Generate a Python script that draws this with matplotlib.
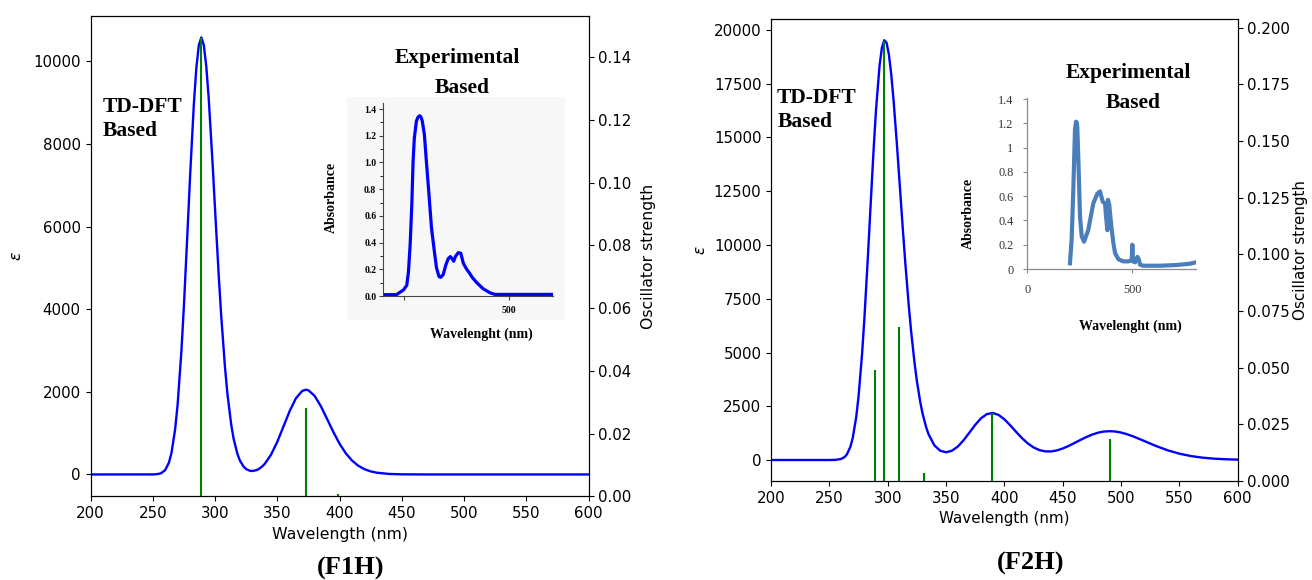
import matplotlib
matplotlib.use("Agg")
import matplotlib.pyplot as plt
import matplotlib.ticker as mticker

W, H = 1312, 580
BLUE = "#0000ff"
GREEN = "#008000"
STEEL = "#4a7ebb"
SERIF = "Liberation Serif"

# ── F1H: TD-DFT spectrum (wavelength nm, epsilon) ──────────────────────────────
f1_wl = [200, 250, 252, 255, 257, 260, 263, 265, 268, 270, 273, 275, 278, 280, 283, 285,
         287, 289, 291, 293, 295, 298, 300, 303, 305, 308, 310, 313, 315, 318, 320, 323,
         325, 328, 330, 333, 335, 338, 340, 345, 350, 355, 360, 365, 370, 373, 375, 380,
         385, 390, 395, 400, 405, 410, 415, 420, 425, 430, 440, 450, 470, 600]
f1_eps = [0, 1, 4, 15, 35, 107, 287, 513, 1099, 1702, 2979, 4065, 5940, 7228, 8961, 9837,
          10393, 10580, 10397, 9878, 9082, 7557, 6442, 4813, 3834, 2601, 1947, 1210, 858, 496, 337, 188,
          131, 89, 84, 101, 129, 196, 258, 478, 789, 1161, 1537, 1844, 2021, 2051, 2038, 1903,
          1654, 1346, 1031, 747, 514, 338, 212, 128, 74, 42, 12, 3, 0, 0]
f1_stick_wl = [288.7, 372.7, 399.0]
f1_stick_f = [0.146, 0.0283, 0.0006]

# F1H: experimental inset
f1_exp_wl = [200, 232, 236, 248, 256, 260, 264, 268, 271, 274, 279, 283, 287, 290, 293, 298,
             303, 309, 315, 322, 327, 333, 337, 343, 349, 355, 360, 364, 368, 372, 379, 385,
             391, 399, 406, 412, 423, 438, 454, 466, 605]
f1_exp_abs = [0.01, 0.01, 0.02, 0.045, 0.08, 0.18, 0.38, 0.68, 1.0, 1.18, 1.31, 1.34, 1.35, 1.34, 1.31, 1.21,
              1.0, 0.76, 0.51, 0.33, 0.21, 0.145, 0.14, 0.16, 0.23, 0.28, 0.295, 0.28, 0.26, 0.295, 0.325, 0.32,
              0.245, 0.20, 0.17, 0.14, 0.10, 0.055, 0.025, 0.012, 0.012]
f1_in_yticks = [0.0, 0.2, 0.4, 0.6, 0.8, 1.0, 1.2, 1.4]
f1_in_ylabels = ["0.0", "0.2", "0.4", "0.6", "0.8", "1.0", "1.2", "1.4"]
f1_in_xticks = [250, 500]
f1_in_xlabels = ["", "500"]

# ── F2H: TD-DFT spectrum ───────────────────────────────────────────────────────
f2_wl = [200, 250, 255, 260, 263, 265, 268, 270, 273, 275, 278, 280, 283, 285, 288, 290,
         293, 295, 297, 299, 301, 303, 305, 308, 310, 313, 315, 318, 320, 323, 325, 328,
         330, 333, 335, 340, 345, 350, 355, 360, 365, 370, 375, 380, 385, 390, 395, 400,
         405, 410, 415, 420, 425, 430, 435, 440, 445, 450, 455, 460, 465, 470, 475, 480,
         485, 490, 495, 500, 505, 510, 520, 530, 540, 550, 560, 570, 580, 590, 600]
f2_eps = [0, 0, 6, 48, 139, 263, 618, 1025, 2005, 2967, 4934, 6587, 9461, 11523, 14542, 16317,
          18350, 19174, 19525, 19407, 18859, 17940, 16736, 14585, 13028, 10698, 9219, 7204, 6019, 4510, 3675, 2664,
          2131, 1512, 1199, 681, 431, 360, 431, 622, 916, 1272, 1634, 1941, 2135, 2188, 2099, 1895,
          1617, 1314, 1024, 776, 586, 462, 401, 398, 446, 534, 652, 787, 928, 1061, 1177, 1266,
          1322, 1341, 1326, 1278, 1203, 1108, 883, 653, 453, 296, 184, 109, 62, 34, 18]
f2_stick_wl = [289.1, 296.7, 309.7, 331.4, 389.3, 490.3]
f2_stick_f = [0.049, 0.194, 0.0678, 0.0036, 0.0302, 0.0185]

# F2H: experimental inset
f2_exp_wl = [203, 211, 219, 227, 232, 235, 238, 245, 251, 259, 270, 290, 314, 333, 346, 359,
             370, 375, 381, 384, 390, 400, 410, 418, 434, 457, 481, 497, 500, 503, 513, 524,
             530, 537, 552, 632, 711, 775, 803]
f2_exp_abs = [0.047, 0.24, 0.65, 1.15, 1.215, 1.21, 1.17, 0.79, 0.43, 0.27, 0.225, 0.32, 0.54, 0.62, 0.64, 0.555,
              0.54, 0.43, 0.32, 0.57, 0.53, 0.35, 0.21, 0.13, 0.08, 0.063, 0.063, 0.07, 0.2, 0.063, 0.055, 0.1,
              0.083, 0.035, 0.027, 0.027, 0.033, 0.044, 0.055]
f2_in_yticks = [0.0, 0.2, 0.4, 0.6, 0.8, 1.0, 1.2, 1.4]
f2_in_ylabels = ["0", "0.2", "0.4", "0.6", "0.8", "1", "1.2", "1.4"]
f2_in_xticks = [0, 500]
f2_in_xlabels = ["0", "500"]


def px_rect(x0, y0, x1, y1):
    """Pixel box (top-left origin) -> figure fraction rect."""
    return [x0 / W, 1 - y1 / H, (x1 - x0) / W, (y1 - y0) / H]


def px(x, y):
    return x / W, 1 - y / H


def bold_serif(x, y, s, size, **kw):
    fig.text(*px(x, y), s, fontsize=size, fontweight="bold", family=SERIF, **kw)


def td_panel(rect, wl, eps, s_wl, s_f, eps_step, eps_x, osc_x, fs):
    ax = fig.add_axes(rect)
    ax.plot(wl, eps, color=BLUE, lw=1.7)
    ax.set_xlim(200, 600)
    ax.yaxis.set_major_locator(mticker.MultipleLocator(eps_step))
    ax.tick_params(labelsize=10.8)
    ax.set_xlabel("Wavelength (nm)", fontsize=fs)
    ax.set_ylabel(r"$\epsilon$", fontsize=fs, va="center")
    ax.yaxis.set_label_coords(eps_x, 0.5)

    ax2 = ax.twinx()
    ax2.vlines(s_wl, 0, s_f, color=GREEN, lw=1.5)
    ax2.set_ylim(0, max(s_f) * 1.05)
    ax2.tick_params(labelsize=10.8)
    ax2.set_ylabel("Oscillator strength", fontsize=fs, va="center")
    ax2.yaxis.set_label_coords(osc_x, 0.5)
    return ax


fig = plt.figure(figsize=(13.12, 5.8), dpi=100)

# ── Panel F1H ─────────────────────────────────────────────────────────────────
td_panel(px_rect(90.5, 15.6, 588.5, 496.3), f1_wl, f1_eps, f1_stick_wl, f1_stick_f,
         2000, -0.148, 1.12, 11.3)

bg = fig.add_axes(px_rect(347, 97, 565, 320))
bg.set_facecolor("#f7f7f7")
bg.set_xticks([])
bg.set_yticks([])
for sp in bg.spines.values():
    sp.set_visible(False)

ins1 = fig.add_axes(px_rect(383.3, 103, 553, 296))
ins1.patch.set_alpha(0)
ins1.plot(f1_exp_wl, f1_exp_abs, color=BLUE, lw=2.3)
ins1.set_xlim(200, 605)
ins1.set_ylim(0, 1.445)
ins1.spines[["top", "right"]].set_visible(False)
for sp in ins1.spines.values():
    sp.set_color("#444444")
    sp.set_linewidth(0.8)
ins1.set_xticks(f1_in_xticks, f1_in_xlabels, fontweight="bold", family=SERIF)
ins1.set_yticks(f1_in_yticks, f1_in_ylabels, fontweight="bold", family=SERIF)
ins1.yaxis.set_minor_locator(mticker.MultipleLocator(0.1))
ins1.tick_params(labelsize=7, length=3, width=0.8, pad=2, color="#444444")
ins1.tick_params(axis="x", pad=4)
ins1.tick_params(which="minor", length=2, width=0.6)

bold_serif(331.7, 197.5, "Absorbance", 10, rotation=90, ha="center", va="center")
bold_serif(481, 334, "Wavelenght (nm)", 10, ha="center", va="center")
bold_serif(103, 107, "TD-DFT", 15.5, ha="left", va="center")
bold_serif(103, 131, "Based", 15.5, ha="left", va="center")
bold_serif(457.5, 58, "Experimental", 15.5, ha="center", va="center")
bold_serif(462, 88, "Based", 15.5, ha="center", va="center")
bold_serif(351, 568, "(F1H)", 19, ha="center", va="center")

# ── Panel F2H ─────────────────────────────────────────────────────────────────
td_panel(px_rect(771.1, 19.2, 1237.6, 481), f2_wl, f2_eps, f2_stick_wl, f2_stick_f,
         2500, -0.152, 1.134, 10.9)

ins2 = fig.add_axes(px_rect(1027.3, 98, 1196, 269))
ins2.patch.set_alpha(0)
ins2.plot(f2_exp_wl, f2_exp_abs, color=STEEL, lw=3, solid_joinstyle="round")
ins2.set_xlim(0, 803)
ins2.set_ylim(0, 1.41)
ins2.spines[["top", "right"]].set_visible(False)
for sp in ins2.spines.values():
    sp.set_color("#8a8a8a")
    sp.set_linewidth(0.9)
ins2.set_xticks(f2_in_xticks, f2_in_xlabels, family=SERIF)
ins2.set_yticks(f2_in_yticks, f2_in_ylabels, family=SERIF)
ins2.tick_params(labelsize=8.8, length=3, width=0.8, color="#8a8a8a", labelcolor="#333333")
ins2.tick_params(axis="x", pad=8)
ins2.tick_params(axis="y", pad=7)

bold_serif(968, 213, "Absorbance", 10, rotation=90, ha="center", va="center")
bold_serif(1130, 326, "Wavelenght (nm)", 10, ha="center", va="center")
bold_serif(777, 98, "TD-DFT", 15.5, ha="left", va="center")
bold_serif(778, 122, "Based", 15.5, ha="left", va="center")
bold_serif(1128.5, 73, "Experimental", 15.5, ha="center", va="center")
bold_serif(1133.5, 103, "Based", 15.5, ha="center", va="center")
bold_serif(1031, 563, "(F2H)", 19, ha="center", va="center")

fig.savefig("out.png", dpi=100)
